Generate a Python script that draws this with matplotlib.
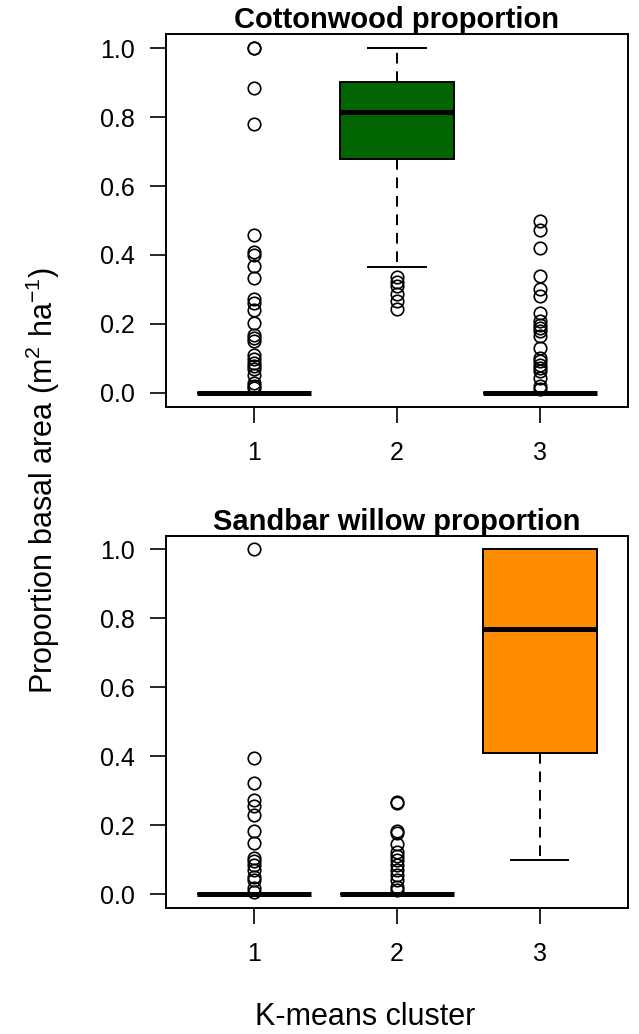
import matplotlib
matplotlib.use("Agg")
import matplotlib.pyplot as plt

plt.rcParams['font.family'] = ['Liberation Sans', 'DejaVu Sans']
plt.rcParams['mathtext.fontset'] = 'custom'
plt.rcParams['mathtext.rm'] = 'Liberation Sans'
plt.rcParams['mathtext.it'] = 'Liberation Sans:italic'

clusters = ['1', '2', '3']

# Cottonwood proportion (top panel)
cw_q1 = [0.0, 0.677, 0.0]
cw_med = [0.0, 0.814, 0.0]
cw_q3 = [0.0, 0.901, 0.0]
cw_whislo = [0.0, 0.365, 0.0]
cw_whishi = [0.0, 1.0, 0.0]
cw_fliers_1 = [1.0, 1.0, 0.885, 0.781, 0.457, 0.409, 0.401, 0.369, 0.332, 0.272,
               0.261, 0.240, 0.203, 0.169, 0.159, 0.150, 0.111, 0.097, 0.087,
               0.077, 0.068, 0.053, 0.029, 0.021, 0.014]
cw_fliers_2 = [0.336, 0.321, 0.311, 0.288, 0.266, 0.244]
cw_fliers_3 = [0.498, 0.473, 0.420, 0.340, 0.300, 0.280, 0.232, 0.208, 0.198,
               0.188, 0.179, 0.164, 0.130, 0.101, 0.092, 0.082, 0.072, 0.063,
               0.043, 0.019, 0.010]

# Sandbar willow proportion (bottom panel)
sw_q1 = [0.0, 0.0, 0.411]
sw_med = [0.0, 0.0, 0.770]
sw_q3 = [0.0, 0.0, 1.0]
sw_whislo = [0.0, 0.0, 0.098]
sw_whishi = [0.0, 0.003, 1.0]
sw_fliers_1 = [1.0, 0.394, 0.322, 0.272, 0.255, 0.230, 0.182, 0.148, 0.105,
               0.095, 0.085, 0.071, 0.051, 0.042, 0.017, 0.005]
sw_fliers_2 = [0.268, 0.266, 0.184, 0.179, 0.145, 0.121, 0.111, 0.100, 0.085,
               0.071, 0.056, 0.042, 0.022, 0.013]
sw_fliers_3 = []

cw_color = '#006400'
sw_color = '#FF8C00'

W, H = 639, 1034
fig = plt.figure(figsize=(W / 100, H / 100), dpi=100)

def axes_px(l, t, r, b):
    return fig.add_axes([l / W, 1 - b / H, (r - l) / W, (b - t) / H])

ax1 = axes_px(165.7, 34.3, 628.3, 406.7)
ax2 = axes_px(165.7, 535.7, 628.3, 908.0)

def draw(ax, q1, med, q3, lo, hi, fliers, color, title):
    stats = []
    for i in range(len(clusters)):
        stats.append(dict(label=clusters[i], q1=q1[i], med=med[i], q3=q3[i],
                          whislo=lo[i], whishi=hi[i], fliers=fliers[i]))
    fill = [color if (q3[i] - q1[i]) > 0 else 'white' for i in range(len(clusters))]
    bp = ax.bxp(stats, positions=[1, 2, 3], widths=0.8, patch_artist=True,
                showfliers=True,
                boxprops=dict(linewidth=1.4, edgecolor='black'),
                medianprops=dict(color='black', linewidth=3.6, solid_capstyle='butt'),
                whiskerprops=dict(color='black', linewidth=1.4, linestyle=(0, (5.5, 4))),
                capprops=dict(color='black', linewidth=1.4),
                capwidths=0.4,
                flierprops=dict(marker='o', markersize=9, markerfacecolor='none',
                                markeredgecolor='black', markeredgewidth=1.2,
                                linestyle='none'))
    for patch, c in zip(bp['boxes'], fill):
        patch.set_facecolor(c)
    for med_line in bp['medians']:
        med_line.set_zorder(3)
    ax.set_xlim(0.38, 3.62)
    ax.set_ylim(-0.04, 1.04)
    ax.set_yticks([0.0, 0.2, 0.4, 0.6, 0.8, 1.0])
    ax.set_yticklabels(['0.0', '0.2', '0.4', '0.6', '0.8', '1.0'])
    ax.set_xticks([1, 2, 3])
    ax.set_xticklabels(clusters)
    ax.tick_params(axis='both', direction='out', length=11.3, width=1.2,
                   labelsize=18, colors='black')
    ax.tick_params(axis='x', pad=13.5)
    ax.tick_params(axis='y', pad=11)
    for s in ax.spines.values():
        s.set_linewidth(1.4)
    ax.set_title(title, fontsize=21, fontweight='bold', pad=3.5)

draw(ax1, cw_q1, cw_med, cw_q3, cw_whislo, cw_whishi,
     [cw_fliers_1, cw_fliers_2, cw_fliers_3], cw_color, 'Cottonwood proportion')
draw(ax2, sw_q1, sw_med, sw_q3, sw_whislo, sw_whishi,
     [sw_fliers_1, sw_fliers_2, sw_fliers_3], sw_color, 'Sandbar willow proportion')

fig.text(43 / W, 1 - 481 / H, 'Proportion basal area (m$^2$ ha$^{-1}$)',
         rotation=90, ha='center', va='center', fontsize=22)
fig.text(365 / W, 1 - 1017 / H, 'K-means cluster', ha='center', va='center', fontsize=22)

fig.savefig('out.png', dpi=100)
